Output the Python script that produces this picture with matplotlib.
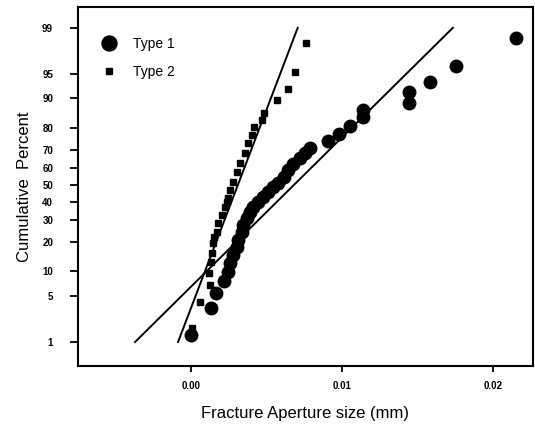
import matplotlib
matplotlib.use("Agg")
import matplotlib.pyplot as plt
from statistics import NormalDist

plt.rcParams['font.family'] = ['Liberation Sans', 'DejaVu Sans']

# Type 1 data (aperture mm, cumulative percent)
type1_x = [0.0000, 0.00132, 0.00166, 0.00219, 0.00245, 0.00258, 0.00278, 0.00305,
           0.00311, 0.00338, 0.00344, 0.00371, 0.00391, 0.00411, 0.00444, 0.00477,
           0.00510, 0.00543, 0.00576, 0.00616, 0.00642, 0.00675, 0.00722, 0.00755,
           0.00788, 0.00907, 0.00980, 0.01053, 0.01139, 0.01139, 0.01444, 0.01444,
           0.01583, 0.01755, 0.02152]
type1_pct = [1.3, 3.4, 5.5, 7.8, 9.9, 12.4, 15.0, 17.9, 20.8, 24.3, 27.7, 31.2,
             34.5, 37.2, 40.1, 42.9, 45.9, 48.8, 51.2, 54.7, 58.8, 62.2, 65.5, 68.2,
             70.8, 74.3, 77.5, 80.9, 84.3, 86.7, 88.8, 91.6, 93.6, 96.1, 98.5]

# Type 2 data
type2_x = [0.00007, 0.00060, 0.00126, 0.00120, 0.00132, 0.00139, 0.00146, 0.00155,
           0.00172, 0.00179, 0.00205, 0.00225, 0.00238, 0.00245, 0.00258, 0.00278,
           0.00305, 0.00325, 0.00358, 0.00377, 0.00404, 0.00417, 0.00470, 0.00483,
           0.00568, 0.00640, 0.00689, 0.00760]
type2_pct = [1.7, 4.2, 6.9, 9.7, 12.7, 15.7, 19.5, 22.1, 24.3, 28.7, 32.8, 37.2,
             40.1, 42.4, 47.0, 51.8, 57.6, 62.8, 68.2, 73.3, 77.1, 80.5, 83.2, 85.7,
             89.6, 92.3, 95.3, 98.2]

# Fitted lines (endpoints)
fit1_x = [-0.00371, 0.01735]
fit2_x = [-0.00086, 0.00707]
fit_pct = [1, 99]

ytick_pct = [1, 5, 10, 20, 30, 40, 50, 60, 70, 80, 90, 95, 99]
xtick_vals = [0.00, 0.01, 0.02]
xtick_labels = ['0.00', '0.01', '0.02']

nd = NormalDist()
def z(p):
    return [nd.inv_cdf(v / 100.0) for v in p]

fig = plt.figure(figsize=(5.35, 4.26), dpi=100)
ax = fig.add_axes([0.146, 0.141, 0.850, 0.843])

ax.plot(fit1_x, z(fit_pct), color='black', lw=1.4, zorder=2)
ax.plot(fit2_x, z(fit_pct), color='black', lw=1.4, zorder=2)
ax.plot(type1_x, z(type1_pct), 'o', color='black', ms=9, mec='black', label='Type 1', zorder=3)
ax.plot(type2_x, z(type2_pct), 's', color='black', ms=4, label='Type 2', zorder=3)

ax.set_xlim(-0.00748, 0.02265)
ax.set_ylim(-2.68, 2.637)
ax.set_yticks(z(ytick_pct))
ax.set_yticklabels([str(v) for v in ytick_pct], fontsize=7, fontweight='bold')
ax.set_xticks(xtick_vals)
ax.set_xticklabels(xtick_labels, fontsize=7, fontweight='bold')
ax.tick_params(axis='y', direction='out', length=6, width=1.3, pad=12)
ax.tick_params(axis='x', direction='out', length=4, width=1.3, pad=6.5)
for s in ax.spines.values():
    s.set_linewidth(1.5)

ax.set_xlabel('Fracture Aperture size (mm)', fontsize=12, labelpad=11)
ax.set_ylabel('Cumulative  Percent', fontsize=12, labelpad=7)

leg = ax.legend(loc='upper left', frameon=False, fontsize=10, markerscale=1.2,
                handlelength=1.0, handletextpad=1.2, labelspacing=1.0,
                bbox_to_anchor=(0.026, 0.95))

fig.savefig('out.png', dpi=100)
